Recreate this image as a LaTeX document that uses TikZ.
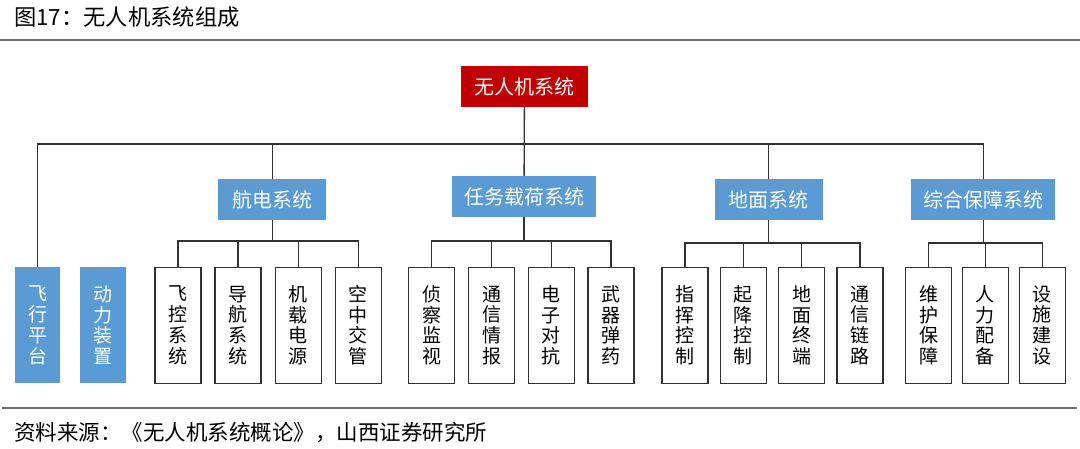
\documentclass[tikz,border=0pt]{standalone}
\usepackage{fontspec}
\newfontfamily\cjk{Noto Sans CJK SC}
\usetikzlibrary{positioning}
\definecolor{rootred}{RGB}{192,0,0}
\definecolor{midblue}{RGB}{91,155,213}
\definecolor{linegray}{RGB}{50,50,50}
\definecolor{rulegray}{RGB}{110,110,110}

\tikzset{
  rootbox/.style={fill=rootred, text=white, minimum width=127pt, minimum height=41pt, inner sep=0pt, font=\cjk\fontsize{20}{22}\selectfont},
  midbox/.style={fill=midblue, text=white, minimum height=41pt, inner sep=0pt, font=\cjk\fontsize{20}{22}\selectfont},
  leafbox/.style={draw=linegray, line width=1.3pt, fill=white, minimum width=46pt, minimum height=116pt, text width=20pt, align=center, inner sep=0pt, font=\cjk\fontsize{19}{20.7}\selectfont},
  bluebox/.style={leafbox, draw=none, fill=midblue, text=white, minimum width=45.5pt},
  link/.style={draw=linegray, line width=1.3pt},
}

\begin{document}
\begin{tikzpicture}[x=1pt, y=-1pt, node distance=12.8pt]
  \useasboundingbox (0,0) rectangle (1080,448);
  % title, rules, source
  \node[anchor=west, inner sep=0pt, font=\cjk\fontsize{22.3}{26}\selectfont] (title) at (14,17) {图17：无人机系统组成};
  \draw[rulegray, line width=1.3pt] (0,40) -- (1080,40);
  \draw[rulegray, line width=1.3pt] (2,408) -- (1077,408);
  \node[anchor=west, inner sep=0pt, font=\cjk\fontsize{21.5}{25}\selectfont] (src) at (14,433) {资料来源：《无人机系统概论》，山西证券研究所};

  % root and subsystems
  \node[rootbox] (uav) at (524.5,86.5) {无人机系统};
  \node[midbox, minimum width=108pt] (avi) at (272.4,199.5) {航电系统};
  \node[midbox, minimum width=144pt] (pay) at (524,196.5) {任务载荷系统};
  \node[midbox, minimum width=108pt] (gnd) at (768.5,199.5) {地面系统};
  \node[midbox, minimum width=144pt] (spt) at (983.2,199.5) {综合保障系统};

  % leaves
  \node[bluebox] (fp) at (37.5,325.3) {飞\\行\\平\\台};
  \node[bluebox, right=18.8pt of fp] (pw) {动\\力\\装\\置};

  \node[leafbox] (a1) at (178,325.3) {飞\\控\\系\\统};
  \node[leafbox, right=of a1] (a2) {导\\航\\系\\统};
  \node[leafbox, right=of a2] (a3) {机\\载\\电\\源};
  \node[leafbox, right=of a3] (a4) {空\\中\\交\\管};

  \node[leafbox] (p1) at (431.8,325.3) {侦\\察\\监\\视};
  \node[leafbox, right=12.4pt of p1] (p2) {通\\信\\情\\报};
  \node[leafbox, right=12.4pt of p2] (p3) {电\\子\\对\\抗};
  \node[leafbox, right=12.4pt of p3] (p4) {武\\器\\弹\\药};

  \node[leafbox] (g1) at (685,325.3) {指\\挥\\控\\制};
  \node[leafbox, right=11pt of g1] (g2) {起\\降\\控\\制};
  \node[leafbox, right=11pt of g2] (g3) {地\\面\\终\\端};
  \node[leafbox, right=11pt of g3] (g4) {通\\信\\链\\路};

  \node[leafbox] (s1) at (928.5,325.3) {维\\护\\保\\障};
  \node[leafbox, right=9.6pt of s1] (s2) {人\\力\\配\\备};
  \node[leafbox, right=9.6pt of s2] (s3) {设\\施\\建\\设};

  % main bus
  \coordinate (bus) at (0,144);
  \draw[link] (uav) -- (pay);
  \draw[link] (fp) -- (fp |- bus) -| (spt);
  \draw[link] (avi) -- (avi |- bus);
  \draw[link] (gnd) -- (gnd |- bus);

  % group buses
  \coordinate (aviBus) at (0,241);
  \draw[link] (avi) -- (avi |- aviBus);
  \draw[link] (a1) -- (a1 |- aviBus) -| (a4);
  \draw[link] (a2) -- (a2 |- aviBus);
  \draw[link] (a3) -- (a3 |- aviBus);

  \coordinate (payBus) at (0,241);
  \draw[link] (pay) -- (pay |- payBus);
  \draw[link] (p1) -- (p1 |- payBus) -| (p4);
  \draw[link] (p2) -- (p2 |- payBus);
  \draw[link] (p3) -- (p3 |- payBus);

  \coordinate (gndBus) at (0,243);
  \draw[link] (gnd) -- (gnd |- gndBus);
  \draw[link] (g1) -- (g1 |- gndBus) -| (g4);
  \draw[link] (g2) -- (g2 |- gndBus);
  \draw[link] (g3) -- (g3 |- gndBus);

  \coordinate (sptBus) at (0,243);
  \draw[link] (spt) -- (spt |- sptBus);
  \draw[link] (s1) -- (s1 |- sptBus) -| (s3);
  \draw[link] (s2) -- (s2 |- sptBus);
\end{tikzpicture}
\end{document}
